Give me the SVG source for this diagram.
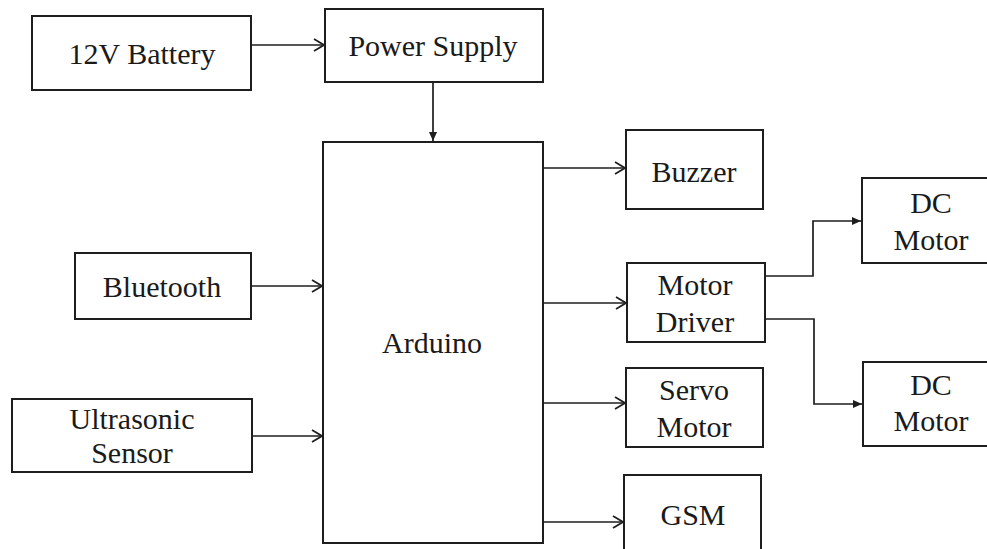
<svg xmlns="http://www.w3.org/2000/svg" width="987" height="549" viewBox="0 0 987 549">
<style>
  .box { fill: #ffffff; stroke: #1e1e1e; stroke-width: 2; }
  .wire { fill: none; stroke: #1e1e1e; stroke-width: 1.7; }
  .t { font-family: "Liberation Serif", "Times New Roman", Times, Tinos, "Noto Serif", "DejaVu Serif", "FreeSerif", serif; font-size: 30px; fill: #1a1a1a; text-anchor: middle; }
</style>
<defs>
  <marker id="open" viewBox="0 0 12 14" refX="11" refY="7" markerWidth="12" markerHeight="14" markerUnits="userSpaceOnUse" orient="auto">
    <path d="M1,1 L11,7 L1,13" fill="none" stroke="#1e1e1e" stroke-width="1.7"/>
  </marker>
  <marker id="solid" viewBox="0 0 9 8" refX="9" refY="4" markerWidth="9" markerHeight="8" markerUnits="userSpaceOnUse" orient="auto">
    <path d="M0,0 L9,4 L0,8 Z" fill="#1e1e1e"/>
  </marker>
</defs>
<rect width="987" height="549" fill="#ffffff"/>

<g id="connectors">
  <line class="wire" x1="251" y1="45" x2="324" y2="45" marker-end="url(#open)"/>
  <line class="wire" x1="433" y1="82" x2="433" y2="141" marker-end="url(#solid)"/>
  <line class="wire" x1="251" y1="286" x2="322" y2="286" marker-end="url(#open)"/>
  <line class="wire" x1="252" y1="436" x2="322" y2="436" marker-end="url(#open)"/>
  <line class="wire" x1="543" y1="168" x2="625" y2="168" marker-end="url(#open)"/>
  <line class="wire" x1="541" y1="303" x2="626" y2="303" marker-end="url(#open)"/>
  <line class="wire" x1="541" y1="403" x2="625" y2="403" marker-end="url(#open)"/>
  <line class="wire" x1="541" y1="522" x2="623" y2="522" marker-end="url(#open)"/>
  <polyline class="wire" points="765,276 813,276 813,221 861,221" marker-end="url(#solid)"/>
  <polyline class="wire" points="765,319 814,319 814,404 862,404" marker-end="url(#solid)"/>
</g>

<g id="battery">
  <rect class="box" x="32" y="16" width="219" height="74"/>
  <text class="t" x="142" y="64">12V Battery</text>
</g>
<g id="power-supply">
  <rect class="box" x="325" y="9" width="218" height="73"/>
  <text class="t" x="433" y="56">Power Supply</text>
</g>
<g id="arduino">
  <rect class="box" x="323" y="142" width="220" height="401"/>
  <text class="t" x="432" y="353">Arduino</text>
</g>
<g id="bluetooth">
  <rect class="box" x="75" y="253" width="176" height="66"/>
  <text class="t" x="162" y="297">Bluetooth</text>
</g>
<g id="ultrasonic">
  <rect class="box" x="12" y="399" width="240" height="73"/>
  <text class="t" x="132" y="429">Ultrasonic</text>
  <text class="t" x="132" y="463">Sensor</text>
</g>
<g id="buzzer">
  <rect class="box" x="626" y="130" width="137" height="79"/>
  <text class="t" x="694" y="182">Buzzer</text>
</g>
<g id="motor-driver">
  <rect class="box" x="627" y="263" width="138" height="79"/>
  <text class="t" x="695" y="295">Motor</text>
  <text class="t" x="695" y="332">Driver</text>
</g>
<g id="servo">
  <rect class="box" x="626" y="368" width="137" height="79"/>
  <text class="t" x="694" y="400">Servo</text>
  <text class="t" x="694" y="437">Motor</text>
</g>
<g id="gsm">
  <rect class="box" x="624" y="475" width="137" height="90"/>
  <text class="t" x="693" y="525">GSM</text>
</g>
<g id="dc-motor-1">
  <rect class="box" x="862" y="178" width="140" height="85"/>
  <text class="t" x="931" y="213">DC</text>
  <text class="t" x="931" y="250">Motor</text>
</g>
<g id="dc-motor-2">
  <rect class="box" x="863" y="362" width="140" height="84"/>
  <text class="t" x="931" y="395">DC</text>
  <text class="t" x="931" y="431">Motor</text>
</g>
</svg>
